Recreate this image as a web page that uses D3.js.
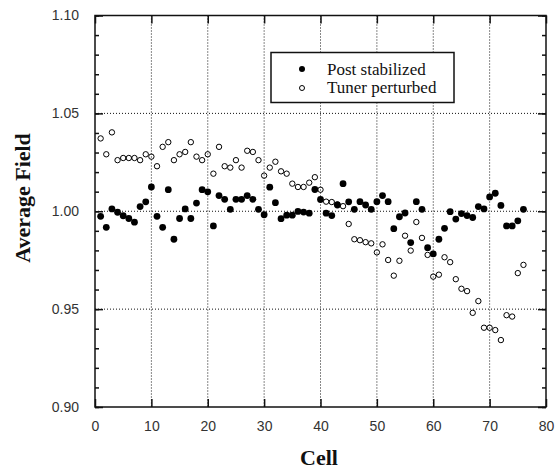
<!DOCTYPE html>
<html>
<head>
<meta charset="utf-8">
<script src="https://cdn.jsdelivr.net/npm/d3@7"></script>
<style>
  html, body { margin: 0; padding: 0; background: #ffffff; }
  svg { display: block; }
</style>
</head>
<body>
<svg id="chart" width="560" height="470"></svg>
<script>
// ---- data ----
const cells = d3.range(1, 77);
const postStabilized = [
  0.9974, 0.9918, 1.0012, 0.9995, 0.9977, 0.9963, 0.9944, 1.0024, 1.0048, 1.0124,
  0.9974, 0.9918, 1.0110, 0.9857, 0.9963, 1.0012, 0.9963, 1.0042, 1.0110, 1.0099,
  0.9925, 1.0080, 1.0061, 1.0010, 1.0061, 1.0061, 1.0080, 1.0061, 1.0010, 0.9982,
  1.0123, 1.0044, 0.9962, 0.9980, 0.9980, 0.9999, 0.9996, 0.9990, 1.0111, 1.0060,
  0.9990, 0.9978, 1.0032, 1.0141, 1.0048, 1.0010, 1.0049, 1.0032, 1.0010, 1.0049,
  1.0080, 1.0049, 0.9911, 0.9972, 0.9991, 0.9840, 1.0049, 1.0010, 0.9814, 0.9782,
  0.9857, 0.9913, 0.9998, 0.9960, 0.9988, 0.9978, 0.9968, 1.0024, 1.0012, 1.0073,
  1.0092, 1.0030, 0.9925, 0.9925, 0.9951, 1.0010
];
const tunerPerturbed = [
  1.0372, 1.0291, 1.0403, 1.0261, 1.0272, 1.0272, 1.0272, 1.0261, 1.0291, 1.0279,
  1.0230, 1.0329, 1.0353, 1.0261, 1.0291, 1.0303, 1.0353, 1.0279, 1.0261, 1.0291,
  1.0192, 1.0329, 1.0230, 1.0223, 1.0261, 1.0223, 1.0309, 1.0303, 1.0261, 1.0182,
  1.0223, 1.0253, 1.0204, 1.0192, 1.0141, 1.0124, 1.0124, 1.0146, 1.0174, 1.0110,
  1.0049, 1.0047, 1.0035, 1.0026, 0.9935, 0.9857, 0.9852, 0.9842, 0.9836, 0.9790,
  0.9831, 0.9751, 0.9671, 0.9747, 0.9875, 0.9799, 0.9945, 0.9864, 0.9777, 0.9666,
  0.9676, 0.9765, 0.9740, 0.9653, 0.9604, 0.9592, 0.9481, 0.9541, 0.9405, 0.9405,
  0.9393, 0.9342, 0.9469, 0.9462, 0.9684, 0.9726
];
const xTicks = [0, 10, 20, 30, 40, 50, 60, 70, 80];
const yTicks = [0.90, 0.95, 1.00, 1.05, 1.10];
const yMinorTicks = d3.range(0, 21).map(i => +(0.90 + i * 0.01).toFixed(2));
const seriesNames = ["Post stabilized", "Tuner perturbed"];
const xTitle = "Cell";
const yTitle = "Average Field";

// ---- layout ----
const L = 95, R = 546, T = 15.5, B = 407;
const svg = d3.select("#chart");
const x = d3.scaleLinear().domain([0, 80]).range([L, R]);
const y = d3.scaleLinear().domain([0.90, 1.10]).range([B, T]);
const ink = "#111";

// gridlines (interior majors)
const g = svg.append("g");
g.selectAll("line.vg").data(xTicks.slice(1, -1)).join("line")
  .attr("x1", d => x(d)).attr("x2", d => x(d)).attr("y1", T).attr("y2", B)
  .attr("stroke", ink).attr("stroke-width", 1).attr("stroke-dasharray", "1,2");
g.selectAll("line.hg").data(yTicks.slice(1, -1)).join("line")
  .attr("y1", d => y(d)).attr("y2", d => y(d)).attr("x1", L).attr("x2", R)
  .attr("stroke", ink).attr("stroke-width", 1).attr("stroke-dasharray", "1,2");

// axes
const fmt = d3.format(".2f");
const axB = d3.axisBottom(x).tickValues(xTicks).tickSize(-8).tickPadding(14).tickFormat(d3.format("d"));
const axT = d3.axisTop(x).tickValues(xTicks).tickSize(-8).tickFormat("");
const axLmin = d3.axisLeft(y).tickValues(yMinorTicks).tickSize(-4).tickFormat("");
const axRmin = d3.axisRight(y).tickValues(yMinorTicks).tickSize(-4).tickFormat("");
const axL = d3.axisLeft(y).tickValues(yTicks).tickSize(-8).tickPadding(16).tickFormat(fmt);
const axR = d3.axisRight(y).tickValues(yTicks).tickSize(-8).tickFormat("");

function style(sel) {
  sel.select(".domain").remove();
  sel.selectAll(".tick line").attr("stroke", ink).attr("stroke-width", 1.5);
  sel.selectAll(".tick text").attr("fill", "#333")
    .style("font-family", "'Liberation Sans', Arial, sans-serif").style("font-size", "14px");
}
svg.append("g").attr("transform", `translate(0,${B})`).call(axB).call(style);
svg.append("g").attr("transform", `translate(0,${T})`).call(axT).call(style);
svg.append("g").attr("transform", `translate(${L},0)`).call(axLmin).call(style);
svg.append("g").attr("transform", `translate(${R},0)`).call(axRmin).call(style);
svg.append("g").attr("transform", `translate(${L},0)`).call(axL).call(style);
svg.append("g").attr("transform", `translate(${R},0)`).call(axR).call(style);

// frame
svg.append("rect").attr("x", L).attr("y", T).attr("width", R - L).attr("height", B - T)
  .attr("fill", "none").attr("stroke", ink).attr("stroke-width", 1.5);

// points
svg.append("g").selectAll("circle").data(cells).join("circle")
  .attr("cx", (d) => x(d)).attr("cy", (d, i) => y(postStabilized[i]))
  .attr("r", 3.4).attr("fill", "#000");
svg.append("g").selectAll("circle").data(cells).join("circle")
  .attr("cx", (d) => x(d)).attr("cy", (d, i) => y(tunerPerturbed[i]))
  .attr("r", 2.7).attr("fill", "none").attr("stroke", "#000").attr("stroke-width", 1);

// legend
const lg = svg.append("g");
lg.append("rect").attr("x", 271).attr("y", 52.5).attr("width", 183).attr("height", 50)
  .attr("fill", "#fff").attr("stroke", ink).attr("stroke-width", 1.5);
lg.append("circle").attr("cx", 302).attr("cy", 69).attr("r", 3).attr("fill", "#000");
lg.append("circle").attr("cx", 302).attr("cy", 88).attr("r", 2.5).attr("fill", "none").attr("stroke", "#000");
lg.selectAll("text").data(seriesNames).join("text")
  .attr("x", 327).attr("y", (d, i) => 74.5 + i * 18.5)
  .style("font-family", "'Liberation Serif', 'Times New Roman', serif").style("font-size", "17px")
  .attr("fill", "#111").text(d => d);

// titles
svg.append("text").attr("x", 319).attr("y", 465).attr("text-anchor", "middle")
  .style("font-family", "'Liberation Serif', 'Times New Roman', serif").style("font-size", "22px")
  .style("font-weight", "bold").attr("fill", "#111").text(xTitle);
svg.append("text").attr("transform", "translate(30,198) rotate(-90)").attr("text-anchor", "middle")
  .style("font-family", "'Liberation Serif', 'Times New Roman', serif").style("font-size", "22px")
  .style("font-weight", "bold").attr("fill", "#111").text(yTitle);
</script>
</body>
</html>
